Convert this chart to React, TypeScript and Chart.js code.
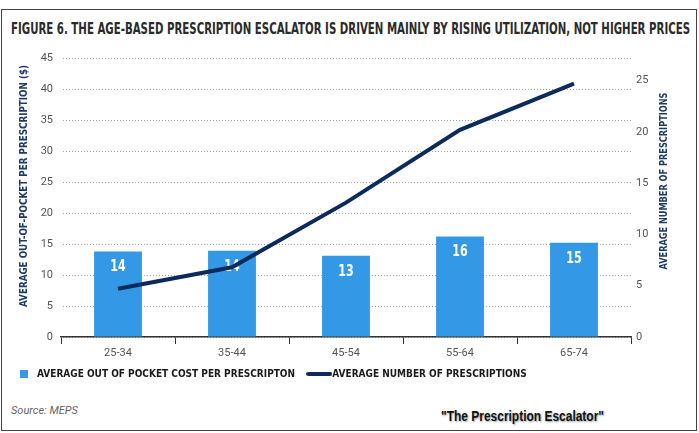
import { useEffect, useLayoutEffect, useRef } from "react";
import { Chart, Plugin, registerables } from "chart.js";

Chart.register(...registerables);

const ageGroups = ["25-34", "35-44", "45-54", "55-64", "65-74"];
const costPerPrescription = [13.8, 13.9, 13.1, 16.2, 15.2];
const prescriptionsPerPerson = [4.7, 6.8, 13.1, 20.2, 24.7];
const costTicks = [0, 5, 10, 15, 20, 25, 30, 35, 40, 45];
const countTicks = [0, 5, 10, 15, 20, 25];

const BAR_BLUE = "#3399e6";
const NAVY = "#0c2a5b";
const AXIS_NAVY = "#1e3a6a";
const NARROW = '"Liberation Sans Narrow", "DejaVu Sans Condensed", "Arial Narrow", sans-serif';
const PLAIN = 'Roboto, "Noto Sans", sans-serif';

function makeSwatch(w: number, h: number, draw: (g: CanvasRenderingContext2D) => void) {
  const c = document.createElement("canvas");
  c.width = w;
  c.height = h;
  const g = c.getContext("2d");
  if (g) draw(g);
  return c;
}

// text squeezed along its baseline so it fits the narrow face of the original
function drawSqueezed(
  ctx: CanvasRenderingContext2D,
  text: string,
  x: number,
  y: number,
  rotation: number,
  targetWidth: number
) {
  ctx.save();
  ctx.translate(x, y);
  ctx.rotate(rotation);
  const w = ctx.measureText(text).width;
  ctx.scale(Math.min(1, targetWidth / w), 1);
  ctx.fillText(text, 0, 0);
  ctx.restore();
}

// white value labels, drawn right after the bars so the line sits on top
const barValueLabels: Plugin = {
  id: "barValueLabels",
  afterDatasetDraw(chart, args) {
    if (args.index !== 0) return;
    const ctx = chart.ctx;
    ctx.save();
    ctx.fillStyle = "#ffffff";
    ctx.font = `bold 15px ${NARROW}`;
    ctx.textAlign = "center";
    ctx.textBaseline = "middle";
    args.meta.data.forEach((bar, i) => {
      const text = String(Math.round(costPerPrescription[i]));
      const w = ctx.measureText(text).width;
      drawSqueezed(ctx, text, bar.x, bar.y + 16, 0, w * 0.82);
    });
    ctx.restore();
  },
};

const axisTitles: Plugin = {
  id: "axisTitles",
  afterDraw(chart) {
    const ctx = chart.ctx;
    const { top } = chart.chartArea;
    ctx.save();
    ctx.fillStyle = AXIS_NAVY;
    ctx.font = `bold 11px ${NARROW}`;
    ctx.textAlign = "center";
    ctx.textBaseline = "middle";
    drawSqueezed(ctx, "AVERAGE OUT-OF-POCKET PER PRESCRIPTION ($)", 24, top + 128, -Math.PI / 2, 242);
    drawSqueezed(ctx, "AVERAGE NUMBER OF PRESCRIPTIONS", 664, top + 123, -Math.PI / 2, 177);
    ctx.restore();
  },
};

function EscalatorChart() {
  const chartRef = useRef<HTMLCanvasElement>(null);
  const chartInstance = useRef<Chart | null>(null);

  useEffect(() => {
    if (!chartRef.current) return;
    if (chartInstance.current) chartInstance.current.destroy();
    const ctx = chartRef.current.getContext("2d");
    if (!ctx) return;

    const swatches = [
      makeSwatch(8, 8, (g) => {
        g.fillStyle = BAR_BLUE;
        g.fillRect(0, 0, 8, 8);
      }),
      makeSwatch(26, 6, (g) => {
        g.strokeStyle = NAVY;
        g.lineWidth = 4;
        g.lineCap = "round";
        g.beginPath();
        g.moveTo(2, 3);
        g.lineTo(24, 3);
        g.stroke();
      }),
    ];

    // dotted grid: one grey dot every 3px
    const dotTile = makeSwatch(3, 1, (g) => {
      g.fillStyle = "#a8a8a8";
      g.fillRect(0, 0, 1, 1);
    });
    const dotted = ctx.createPattern(dotTile, "repeat");

    chartInstance.current = new Chart(ctx, {
      type: "bar",
      data: {
        labels: ageGroups,
        datasets: [
          {
            type: "bar",
            label: "AVERAGE OUT OF POCKET COST PER PRESCRIPTON",
            data: costPerPrescription,
            backgroundColor: BAR_BLUE,
            borderWidth: 0,
            categoryPercentage: 1,
            barPercentage: 0.42,
            yAxisID: "y",
            order: 2,
          },
          {
            type: "line",
            label: "AVERAGE NUMBER OF PRESCRIPTIONS",
            data: prescriptionsPerPerson,
            borderColor: NAVY,
            backgroundColor: NAVY,
            borderWidth: 4,
            pointRadius: 0,
            tension: 0,
            fill: false,
            yAxisID: "y1",
            order: 1,
          },
        ],
      } as any,
      options: {
        responsive: true,
        maintainAspectRatio: false,
        animation: false,
        layout: { padding: { top: 18, left: 6, right: 0, bottom: 0 } },
        plugins: {
          title: { display: false },
          tooltip: { enabled: false },
          legend: {
            position: "bottom",
            align: "start",
            labels: {
              usePointStyle: true,
              pointStyleWidth: 16,
              boxHeight: 8,
              padding: 10,
              color: "#1a1a1a",
              font: { family: NARROW, size: 10, weight: "bold" },
              sort: (a: any, b: any) => a.datasetIndex - b.datasetIndex,
              generateLabels: (c: Chart) =>
                Chart.defaults.plugins.legend.labels.generateLabels(c).map((item) => ({
                  ...item,
                  // a little extra room before the wide line swatch
                  text: item.datasetIndex === 0 ? item.text + "  " : item.text,
                  pointStyle: swatches[item.datasetIndex ?? 0] as any,
                })),
            },
          },
        },
        scales: {
          x: {
            offset: true,
            grid: {
              offset: true,
              drawOnChartArea: false,
              drawTicks: true,
              tickLength: 7,
              color: "#333333",
            },
            border: { display: true, color: "#333333", width: 1.5 },
            ticks: {
              color: "#555555",
              padding: 3,
              font: { family: PLAIN, size: 11 },
            },
            afterFit: (scale) => {
              scale.height = 22;
            },
          },
          y: {
            position: "left",
            min: 0,
            max: 45,
            afterBuildTicks: (scale) => {
              scale.ticks = costTicks.map((v) => ({ value: v }));
            },
            grid: { color: dotted, lineWidth: 1, drawTicks: false },
            border: { display: false },
            ticks: {
              color: "#555555",
              padding: 8,
              font: { family: PLAIN, size: 11 },
            },
            afterFit: (scale) => {
              scale.width = 55;
            },
          },
          y1: {
            position: "right",
            min: 0,
            max: 27.2,
            afterBuildTicks: (scale) => {
              scale.ticks = countTicks.map((v) => ({ value: v }));
            },
            grid: { drawOnChartArea: false, drawTicks: false },
            border: { display: false },
            ticks: {
              color: "#555555",
              padding: 5,
              font: { family: PLAIN, size: 11 },
            },
            afterFit: (scale) => {
              scale.width = 68;
            },
          },
        },
      } as any,
      plugins: [barValueLabels, axisTitles],
    });

    return () => {
      if (chartInstance.current) {
        chartInstance.current.destroy();
        chartInstance.current = null;
      }
    };
  }, []);

  return <canvas ref={chartRef}></canvas>;
}

// html text squeezed horizontally to a given width
function FitText({ width, style, children }: { width: number; style: any; children: string }) {
  const ref = useRef<HTMLSpanElement>(null);
  useLayoutEffect(() => {
    const fit = () => {
      const el = ref.current;
      if (!el) return;
      el.style.transform = "none";
      const w = el.getBoundingClientRect().width;
      if (w > 0) el.style.transform = `scaleX(${width / w})`;
    };
    fit();
    if (document.fonts) document.fonts.ready.then(fit);
  }, [width]);
  return (
    <span
      ref={ref}
      style={{
        ...style,
        position: "absolute",
        whiteSpace: "nowrap",
        transformOrigin: "0 50%",
        display: "inline-block",
      }}
    >
      {children}
    </span>
  );
}

export default function App() {
  return (
    <div
      style={{
        position: "fixed",
        left: 0,
        top: 0,
        width: 699,
        height: 433,
        background: "#ffffff",
        overflow: "hidden",
      }}
    >
      <div
        style={{
          position: "absolute",
          left: 1,
          top: 9,
          width: 694,
          height: 420,
          border: "1.5px solid #444444",
        }}
      />
      <FitText
        width={679}
        style={{
          left: 11,
          top: 18,
          fontFamily: NARROW,
          fontWeight: "bold",
          fontSize: 15,
          color: "#2b2b2b",
          lineHeight: "22px",
        }}
      >
        FIGURE 6. THE AGE-BASED PRESCRIPTION ESCALATOR IS DRIVEN MAINLY BY RISING UTILIZATION, NOT HIGHER PRICES
      </FitText>
      <div style={{ position: "absolute", left: 0, top: 40, width: 699, height: 349 }}>
        <EscalatorChart />
      </div>
      <div
        style={{
          position: "absolute",
          left: 11,
          top: 403,
          fontFamily: PLAIN,
          fontStyle: "italic",
          fontSize: 11,
          color: "#666666",
          lineHeight: "16px",
        }}
      >
        Source: MEPS
      </div>
      <FitText
        width={163}
        style={{
          left: 441,
          top: 407,
          fontFamily: '"Liberation Sans", Arial, sans-serif',
          fontWeight: "bold",
          fontSize: 14,
          color: "#111111",
          lineHeight: "18px",
          textShadow: "1px 1px 2px #999999",
        }}
      >
        "The Prescription Escalator"
      </FitText>
    </div>
  );
}
